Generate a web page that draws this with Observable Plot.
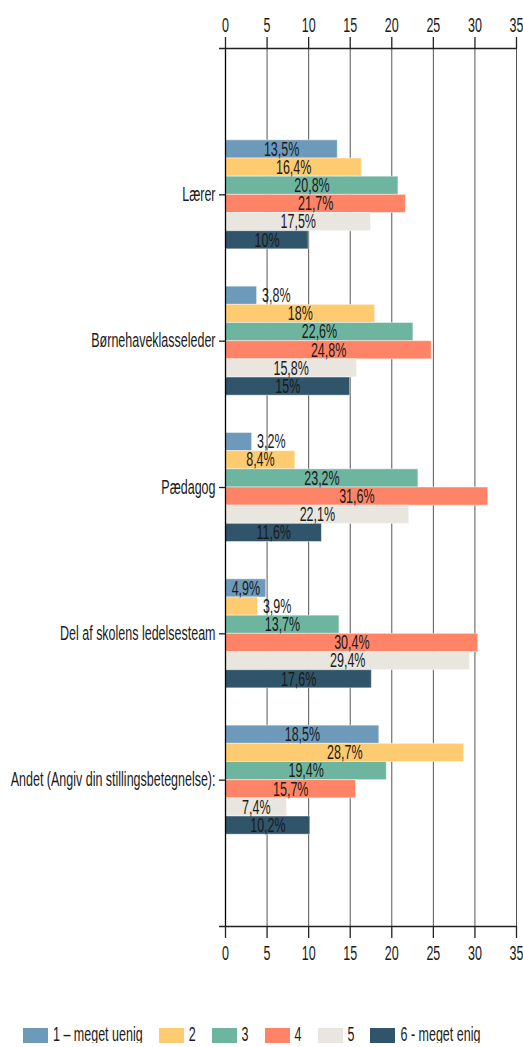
<!DOCTYPE html>
<html>
<head>
<meta charset="utf-8">
<script src="https://cdn.jsdelivr.net/npm/d3@7"></script>
<script src="https://cdn.jsdelivr.net/npm/@observablehq/plot@0.6"></script>
<style>
  body { margin: 0; background: #fff; font-family: "Liberation Sans", Arial, sans-serif; }
  #chart svg { display: block; }
  #legend { display: flex; align-items: center; padding-left: 23px; margin-top: 48px; height: 15px; font-size: 12.5px; color: #1a1a1a; }
  #legend .sw { width: 25px; height: 15px; margin-right: 5px; flex: none; }
  #legend .lb { display: inline-block; line-height: 15px; transform: scaleY(1.56); margin-right: 16px; white-space: nowrap; }
</style>
</head>
<body>
<div id="chart"></div>
<div id="legend"></div>
<script>
// ---- data ----
const groups = ["Lærer", "Børnehaveklasseleder", "Pædagog", "Del af skolens ledelsesteam", "Andet (Angiv din stillingsbetegnelse):"];
const seriesNames = ["1 – meget uenig", "2", "3", "4", "5", "6 - meget enig"];
const seriesColors = ["#6d9aba", "#ffcb70", "#6db59f", "#ff8467", "#e8e6de", "#30556a"];
const laerer = [13.5, 16.4, 20.8, 21.7, 17.5, 10];
const boernehaveklasseleder = [3.8, 18, 22.6, 24.8, 15.8, 15];
const paedagog = [3.2, 8.4, 23.2, 31.6, 22.1, 11.6];
const ledelsesteam = [4.9, 3.9, 13.7, 30.4, 29.4, 17.6];
const andet = [18.5, 28.7, 19.4, 15.7, 7.4, 10.2];
const xTicks = [0, 5, 10, 15, 20, 25, 30, 35];

// ---- build table ----
const valuesByGroup = [laerer, boernehaveklasseleder, paedagog, ledelsesteam, andet];
const groupSpan = 0.745;                 // fraction of a group step covered by bars
const barStep = groupSpan / seriesNames.length;
const rows = groups.flatMap((g, gi) =>
  valuesByGroup[gi].map((v, si) => {
    const y1 = gi - groupSpan / 2 + si * barStep;
    return {group: g, gi, series: seriesNames[si], si, value: v, y1, y2: y1 + barStep, yc: y1 + barStep / 2,
            label: String(v).replace(".", ",") + "%"};
  })
);
const fits = d => d.value >= 4.5;
const SY = 1.56;

const plot = Plot.plot({
  width: 523,
  height: 980,
  marginLeft: 225,
  marginRight: 7,
  marginTop: 48,
  marginBottom: 54,
  style: {fontFamily: "'Liberation Sans', Arial, sans-serif", fontSize: "12.5px", background: "#fff", color: "#1a1a1a", overflow: "visible"},
  x: {domain: [0, 35], label: null},
  y: {domain: [-1, groups.length], reverse: true, label: null},
  color: {domain: seriesNames, range: seriesColors},
  marks: [
    Plot.ruleX(xTicks.filter(t => t > 0), {stroke: "#555", strokeWidth: 1}),
    Plot.rect(rows, {x1: 0, x2: "value", y1: "y1", y2: "y2", fill: "series", stroke: "#fff", strokeOpacity: 0.45, strokeWidth: 1}),
    Plot.ruleX([0], {stroke: "#000", strokeWidth: 1.3}),
    Plot.ruleY([-1, groups.length], {stroke: "#222", strokeWidth: 1.3, insetLeft: -6}),
    Plot.axisX({anchor: "top", ticks: xTicks, tickSize: 12, tickPadding: 5, label: null, stroke: "#222", strokeWidth: 1.3}),
    Plot.axisX({anchor: "bottom", ticks: xTicks, tickSize: 12, tickPadding: 8, label: null, stroke: "#222", strokeWidth: 1.3}),
    Plot.axisY({ticks: d3.range(groups.length), tickFormat: i => groups[i], tickSize: 6, tickPadding: 4, label: null, stroke: "#222", strokeWidth: 1.3}),
    Plot.text(rows.filter(fits), {x: d => d.value / 2, y: "yc", text: "label", fill: "#1a1a1a"}),
    Plot.text(rows.filter(d => !fits(d)), {x: "value", y: "yc", text: "label", dx: 5, textAnchor: "start", fill: "#1a1a1a"})
  ]
});

// stretch all text vertically (the reference uses a tall, condensed face)
const isPx = s => s != null && s !== "" && /^-?[\d.]+$/.test(s);
for (const t of plot.querySelectorAll("text")) {
  let tx = 0, ty = 0;
  const xa = t.getAttribute("x"), ya = t.getAttribute("y");
  if (isPx(xa)) { tx = +xa; t.removeAttribute("x"); }
  if (isPx(ya)) { ty = +ya; t.removeAttribute("y"); }
  const tr = t.getAttribute("transform") || "";
  t.setAttribute("transform", `${tr} translate(${tx},${ty}) scale(1,${SY})`);
}
document.getElementById("chart").append(plot);

// ---- legend ----
const legend = d3.select("#legend");
seriesNames.forEach((name, i) => {
  legend.append("div").attr("class", "sw").style("background", seriesColors[i]);
  legend.append("span").attr("class", "lb").text(name);
});
</script>
</body>
</html>
